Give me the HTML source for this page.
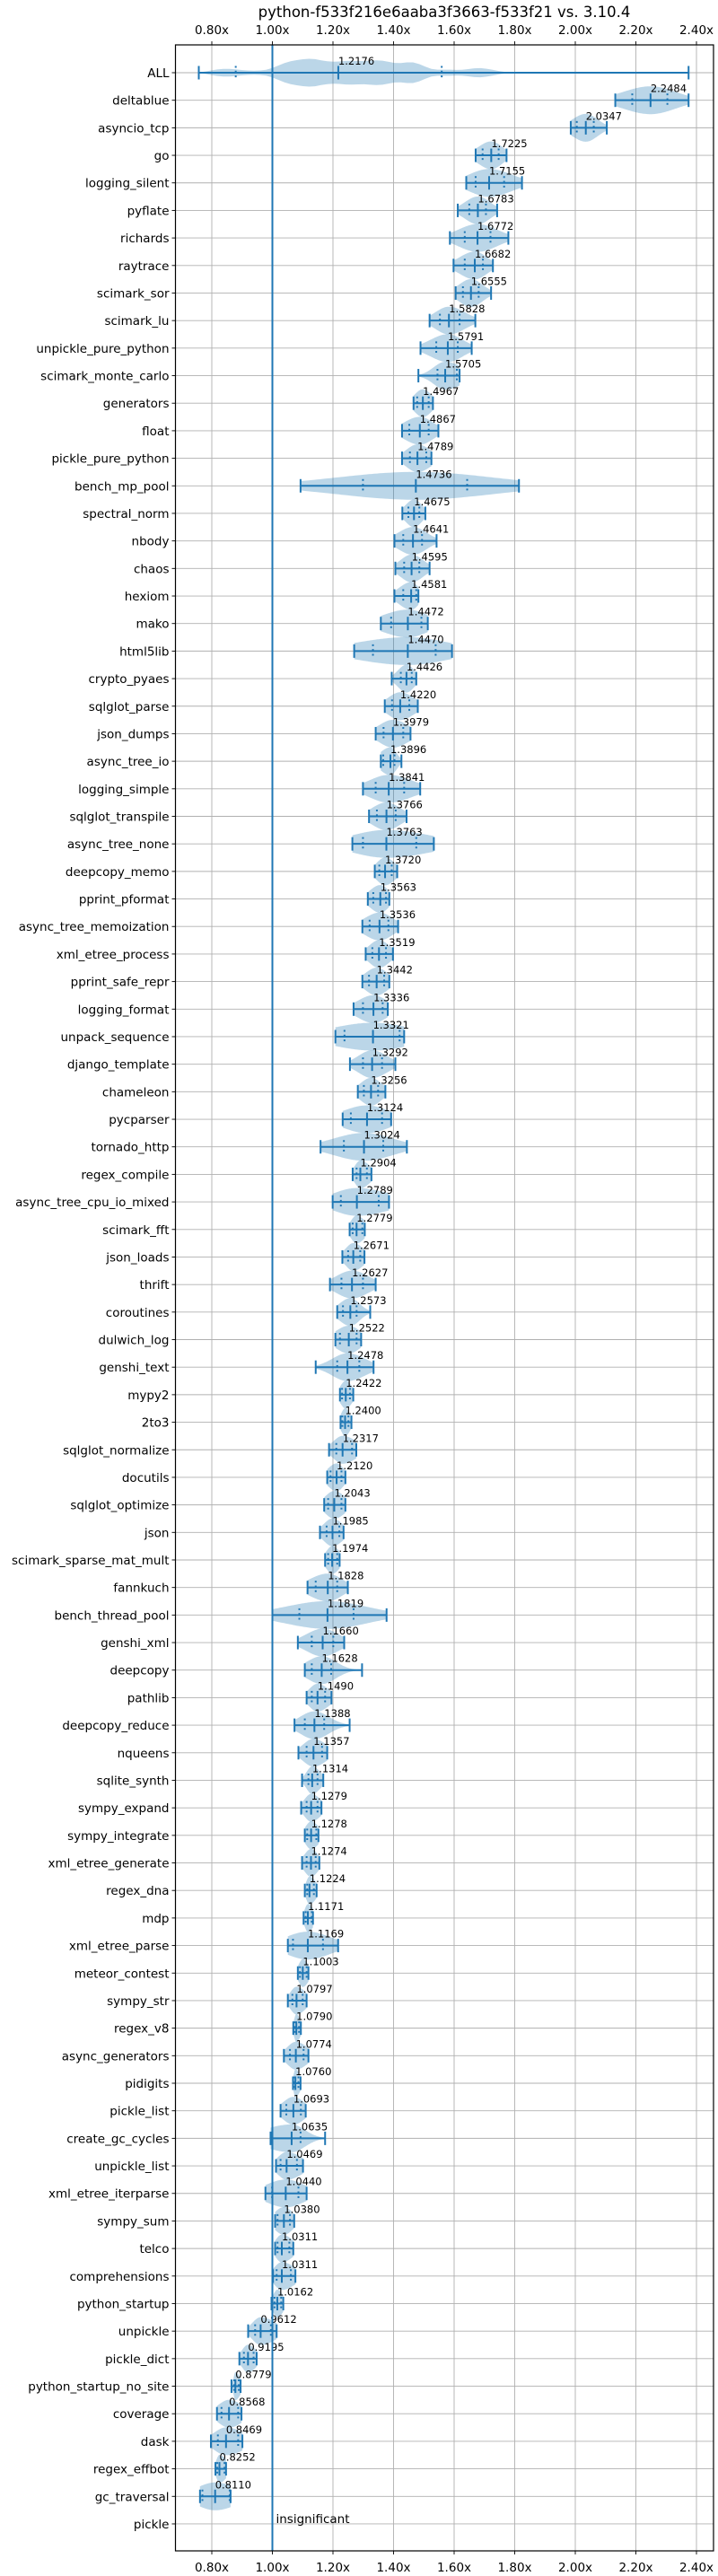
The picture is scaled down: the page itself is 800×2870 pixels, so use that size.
<!DOCTYPE html>
<html><head><meta charset="utf-8"><title>python-f533f216e6aaba3f3663-f533f21 vs. 3.10.4</title>
<style>html,body{margin:0;padding:0;background:#fff}svg{display:block}text{font-family:"DejaVu Sans","Liberation Sans",sans-serif}</style>
</head><body>
<svg id="chart" width="800" height="2870" viewBox="0 0 800 2870" xmlns="http://www.w3.org/2000/svg">
<text x="495" y="19" font-size="16.5" text-anchor="middle" fill="#000">python-f533f216e6aaba3f3663-f533f21 vs. 3.10.4</text>
<g id="grid"></g>
<g id="marks"></g>
<g id="axes"></g>
</svg>
<script>
const names=["ALL","deltablue","asyncio_tcp","go","logging_silent","pyflate","richards","raytrace","scimark_sor","scimark_lu","unpickle_pure_python","scimark_monte_carlo","generators","float","pickle_pure_python","bench_mp_pool","spectral_norm","nbody","chaos","hexiom","mako","html5lib","crypto_pyaes","sqlglot_parse","json_dumps","async_tree_io","logging_simple","sqlglot_transpile","async_tree_none","deepcopy_memo","pprint_pformat","async_tree_memoization","xml_etree_process","pprint_safe_repr","logging_format","unpack_sequence","django_template","chameleon","pycparser","tornado_http","regex_compile","async_tree_cpu_io_mixed","scimark_fft","json_loads","thrift","coroutines","dulwich_log","genshi_text","mypy2","2to3","sqlglot_normalize","docutils","sqlglot_optimize","json","scimark_sparse_mat_mult","fannkuch","bench_thread_pool","genshi_xml","deepcopy","pathlib","deepcopy_reduce","nqueens","sqlite_synth","sympy_expand","sympy_integrate","xml_etree_generate","regex_dna","mdp","xml_etree_parse","meteor_contest","sympy_str","regex_v8","async_generators","pidigits","pickle_list","create_gc_cycles","unpickle_list","xml_etree_iterparse","sympy_sum","telco","comprehensions","python_startup","unpickle","pickle_dict","python_startup_no_site","coverage","dask","regex_effbot","gc_traversal","pickle"];
const medians=[1.2176,2.2484,2.0347,1.7225,1.7155,1.6783,1.6772,1.6682,1.6555,1.5828,1.5791,1.5705,1.4967,1.4867,1.4789,1.4736,1.4675,1.4641,1.4595,1.4581,1.4472,1.4470,1.4426,1.4220,1.3979,1.3896,1.3841,1.3766,1.3763,1.3720,1.3563,1.3536,1.3519,1.3442,1.3336,1.3321,1.3292,1.3256,1.3124,1.3024,1.2904,1.2789,1.2779,1.2671,1.2627,1.2573,1.2522,1.2478,1.2422,1.2400,1.2317,1.2120,1.2043,1.1985,1.1974,1.1828,1.1819,1.1660,1.1628,1.1490,1.1388,1.1357,1.1314,1.1279,1.1278,1.1274,1.1224,1.1171,1.1169,1.1003,1.0797,1.0790,1.0774,1.0760,1.0693,1.0635,1.0469,1.0440,1.0380,1.0311,1.0311,1.0162,0.9612,0.9195,0.8779,0.8568,0.8469,0.8252,0.8110,1.0];
const mins=[0.757,2.132,1.985,1.671,1.640,1.612,1.586,1.598,1.605,1.519,1.489,1.482,1.466,1.428,1.428,1.093,1.429,1.403,1.406,1.403,1.358,1.270,1.394,1.371,1.341,1.358,1.299,1.319,1.264,1.338,1.315,1.297,1.308,1.297,1.268,1.208,1.256,1.282,1.232,1.159,1.265,1.199,1.255,1.231,1.190,1.214,1.208,1.143,1.223,1.225,1.187,1.181,1.171,1.157,1.174,1.116,1.000,1.084,1.107,1.113,1.073,1.086,1.098,1.095,1.107,1.098,1.107,1.103,1.051,1.084,1.051,1.069,1.038,1.068,1.027,0.994,1.012,0.977,1.009,1.009,1.002,0.997,0.920,0.891,0.865,0.817,0.797,0.812,0.761,0.998];
const maxs=[2.374,2.374,2.104,1.773,1.824,1.742,1.779,1.728,1.722,1.670,1.658,1.618,1.530,1.548,1.525,1.814,1.505,1.542,1.519,1.482,1.513,1.593,1.475,1.480,1.456,1.426,1.488,1.443,1.533,1.412,1.386,1.415,1.398,1.386,1.381,1.435,1.406,1.373,1.392,1.444,1.327,1.385,1.305,1.304,1.341,1.323,1.293,1.334,1.267,1.261,1.277,1.241,1.241,1.235,1.222,1.249,1.377,1.237,1.296,1.195,1.255,1.181,1.168,1.162,1.152,1.155,1.146,1.134,1.217,1.119,1.113,1.094,1.119,1.093,1.110,1.174,1.101,1.113,1.072,1.069,1.076,1.036,1.014,0.948,0.895,0.898,0.901,0.847,0.862,1.002];
const q1s=[0.879,2.188,2.005,1.694,1.671,1.650,1.635,1.635,1.629,1.553,1.541,1.545,1.478,1.452,1.454,1.299,1.449,1.432,1.435,1.432,1.392,1.332,1.424,1.395,1.367,1.366,1.341,1.345,1.299,1.353,1.333,1.321,1.330,1.319,1.299,1.238,1.299,1.302,1.259,1.236,1.278,1.226,1.265,1.250,1.228,1.233,1.223,1.214,1.230,1.231,1.211,1.192,1.184,1.179,1.184,1.143,1.089,1.130,1.130,1.130,1.107,1.113,1.119,1.113,1.115,1.113,1.115,1.110,1.068,1.091,1.066,1.074,1.058,1.074,1.046,0.999,1.027,0.999,1.017,1.017,1.014,1.007,0.943,0.906,0.874,0.832,0.820,0.818,0.769,0.999];
const q3s=[1.559,2.304,2.061,1.747,1.765,1.705,1.720,1.695,1.681,1.618,1.612,1.609,1.516,1.516,1.508,1.643,1.485,1.494,1.485,1.475,1.492,1.539,1.460,1.452,1.432,1.403,1.435,1.407,1.475,1.394,1.375,1.383,1.375,1.369,1.364,1.420,1.362,1.349,1.362,1.366,1.312,1.351,1.297,1.290,1.299,1.278,1.278,1.287,1.256,1.251,1.263,1.228,1.228,1.221,1.214,1.214,1.268,1.201,1.194,1.174,1.171,1.164,1.149,1.149,1.145,1.143,1.137,1.130,1.167,1.113,1.100,1.088,1.103,1.086,1.094,1.093,1.081,1.086,1.058,1.056,1.061,1.029,0.995,0.938,0.889,0.887,0.887,0.842,0.859,1.001];
const insignificant=["pickle"];
const xTicks=[0.8,1.0,1.2,1.4,1.6,1.8,2.0,2.2,2.4];
const xTickLabels=["0.80x","1.00x","1.20x","1.40x","1.60x","1.80x","2.00x","2.20x","2.40x"];

const L=195.5,R=795,T=50,B=2842,Y0=81,DY=30.685,HW=15.5,BLUE="#1f77b4";
const xs=v=>303.5+(v-1)*337.5;
const ys=i=>Y0+i*DY;
const NS="http://www.w3.org/2000/svg";
function mk(tag,attrs,parent){const e=document.createElementNS(NS,tag);for(const k in attrs)e.setAttribute(k,attrs[k]);parent.appendChild(e);return e;}
const grid=document.getElementById('grid'),marks=document.getElementById('marks'),axes=document.getElementById('axes');

xTicks.forEach((t,k)=>{
  const g=mk('line',{x1:xs(t),x2:xs(t),y1:T,y2:B,stroke:'#b0b0b0','stroke-width':0.9},grid);
  
  
  [[T,T-4,38],[B,B+4,2865]].forEach(([a,b,ty],j)=>{
    const tk=mk('line',{x1:xs(t),x2:xs(t),y1:a,y2:b,stroke:'#000','stroke-width':0.9},axes);
    
    
    const tx=mk('text',{x:xs(t),y:ty,'font-size':13.5,'text-anchor':'middle',fill:'#000'},axes);
    tx.textContent=xTickLabels[k];
    
    
  });
});
names.forEach((n,i)=>{
  const y=ys(i);
  const g=mk('line',{x1:L,x2:R,y1:y,y2:y,stroke:'#b0b0b0','stroke-width':0.9},grid);
  
  
  const tk=mk('line',{x1:L-4,x2:L,y1:y,y2:y,stroke:'#000','stroke-width':0.9},axes);
  
  
  const tx=mk('text',{x:L-7,y:y+5,'font-size':13.5,'text-anchor':'end',fill:'#000'},axes);
  tx.textContent=n;
  
  
});

function dens(i,v){
  if(i===0){let s=0;for(let j=1;j<medians.length-1;j++){const d=(v-medians[j])/0.035;s+=Math.exp(-d*d/2);}return s;}
  const m=medians[i];const sd=v<m?Math.max(m-q1s[i],0.004)/0.674:Math.max(q3s[i]-m,0.004)/0.674;
  const d=(v-m)/sd;return Math.exp(-d*d/2);
}
names.forEach((n,i)=>{
  const y=ys(i),lo=mins[i],hi=maxs[i],N=80;
  const pts=[];let mx=0;const vals=[];
  for(let k=0;k<=N;k++){const v=lo+(hi-lo)*k/N;const d=dens(i,v);vals.push([v,d]);if(d>mx)mx=d;}
  const top=vals.map(([v,d])=>xs(v).toFixed(1)+','+(y-d/mx*HW).toFixed(1));
  const bot=vals.slice().reverse().map(([v,d])=>xs(v).toFixed(1)+','+(y+d/mx*HW).toFixed(1));
  const body=mk('polygon',{points:top.concat(bot).join(' '),fill:BLUE,'fill-opacity':0.3,stroke:'none'},marks);
  
  
  if(insignificant.includes(n)){
    const t=mk('text',{x:xs(1.0)+4,y:y-1,'font-size':13.5,fill:'#000'},marks);
    t.textContent='insignificant';
    
    
    return;
  }
  const bar=mk('line',{x1:xs(lo),x2:xs(hi),y1:y,y2:y,stroke:BLUE,'stroke-width':2},marks);
  
  
  [lo,hi,medians[i]].forEach(v=>{
    const c=mk('line',{x1:xs(v),x2:xs(v),y1:y-7.5,y2:y+7.5,stroke:BLUE,'stroke-width':2},marks);
    
    
  });
  [q1s[i],q3s[i]].forEach(v=>{
    const c=mk('line',{x1:xs(v),x2:xs(v),y1:y-7.5,y2:y+7.5,stroke:BLUE,'stroke-width':2,'stroke-dasharray':'2,3.3'},marks);
    
    
  });
  const t=mk('text',{x:xs(medians[i]),y:y-9,'font-size':11.5,fill:'#000'},marks);
  t.textContent=medians[i].toFixed(4);
  
  
});
const base=mk('line',{x1:xs(1),x2:xs(1),y1:T,y2:B,stroke:BLUE,'stroke-width':2},marks);


const frame=mk('rect',{x:L,y:T,width:R-L,height:B-T,fill:'none',stroke:'#000','stroke-width':1.2},axes);


</script>
</body></html>
